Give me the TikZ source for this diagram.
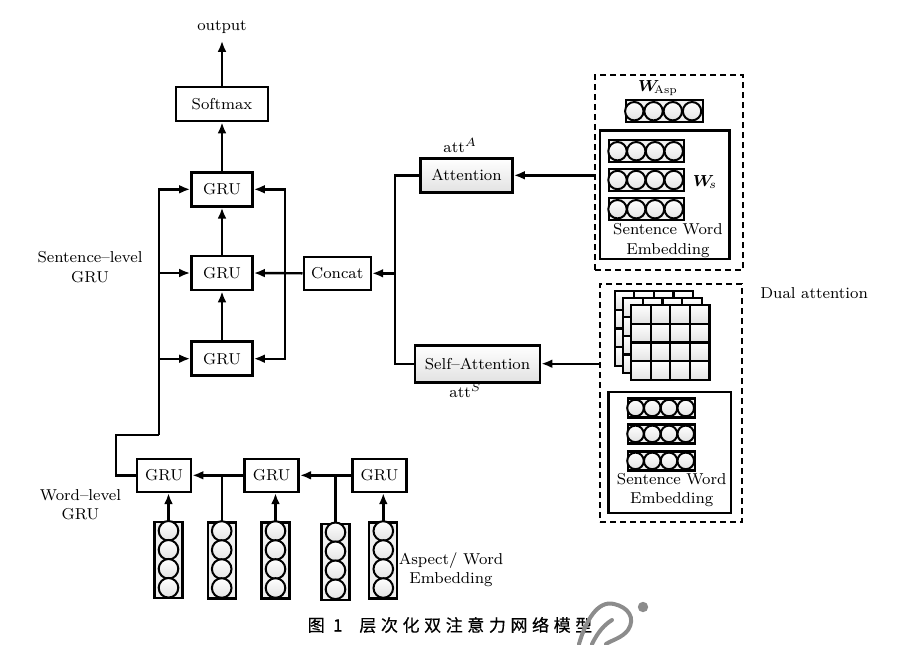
\documentclass[tikz,border=0pt]{standalone}
\usepackage{fontspec}
\usepackage{amsmath,bm}
\newfontfamily\cjk[LetterSpace=27,FakeBold=0.4]{Noto Sans CJK SC}
\usetikzlibrary{arrows.meta,positioning,calc}
\definecolor{boxfill}{HTML}{E2E2E2}
\definecolor{wmgray}{HTML}{8C8C8C}
\tikzset{
  >={Latex[length=5.5pt,width=4.4pt]},
  every node/.style={font=\fontsize{7.9}{9.6}\selectfont,text=black},
  blk/.style={draw,line width=1.3pt,fill=white,inner sep=1pt},
  gru/.style={blk,minimum width=30.5pt,minimum height=17pt},
  wgru/.style={blk,minimum width=27pt,minimum height=16.5pt},
  attn/.style={blk,top color=white,bottom color=boxfill,minimum height=17pt},
  vecbox/.style={draw,line width=1.1pt,fill=black!6,inner sep=0pt},
  ball/.style={circle,draw,line width=1pt,inner sep=0pt,minimum size=9.8pt,top color=white,bottom color=boxfill},
  hball/.style={ball,minimum size=9.2pt},
  sball/.style={ball,minimum size=8.3pt},
  panel/.style={draw,line width=1.2pt,dash pattern=on 3pt off 2pt,inner sep=0pt},
  embbox/.style={draw,line width=1.2pt,inner sep=0pt},
  cell/.style={draw,line width=1.1pt,top color=white,bottom color=boxfill},
  arrow/.style={->,line width=1.2pt},
  wire/.style={line width=1.2pt},
  lbl/.style={align=center,inner sep=0pt},
  wm/.style={draw=wmgray,line width=2pt,line cap=round}
}
\begin{document}
\begin{tikzpicture}[x=0.5pt,y=-0.5pt]
  \useasboundingbox (0,0) rectangle (906,644);

  \node[lbl] (out) at (222,27) {output};
  \node[blk,minimum width=46pt,minimum height=17pt] (soft) at (222,104) {Softmax};
  \node[gru] (sg3) at (222,189.3) {GRU};
  \node[gru] (sg2) at (222,273) {GRU};
  \node[gru] (sg1) at (222,358.7) {GRU};
  \node[lbl] (slabel) at (90,267) {Sentence--level\\GRU};
  \node[blk,minimum width=33.5pt,minimum height=16.5pt] (concat) at (337.3,273.3) {Concat};
  \node[attn,minimum width=46pt] (att) at (466.5,175.3) {Attention};
  \node[attn,minimum width=62.5pt,minimum height=18.5pt] (satt) at (477.5,363.7) {Self--Attention};
  \node[lbl,anchor=base west] (attA) at (443,152.5) {att$^{A}$};
  \node[lbl,anchor=base west] (attS) at (449,397) {att$^{S}$};

  \node[wgru] (wg1) at (164,475.3) {GRU};
  \node[wgru] (wg2) at (271.7,475.3) {GRU};
  \node[wgru] (wg3) at (379.5,475.3) {GRU};
  \node[lbl] (wlabel) at (80.5,504.5) {Word--level\\GRU};
  \foreach \n/\x/\y in {e1/168.5/560.3,e2/221.7/560.5,e3/275.5/560.5,e4/335.5/561.8,e5/383.3/560.5} {
    \node[vecbox,minimum width=14pt,minimum height=38pt] (\n) at (\x,\y) {};
    \foreach \k in {0,...,3} \node[ball] (\n-\k) at ($(\n.north)+(0,9.6+19*\k)$) {};
  }
  \node[lbl] (aspect) at (451,570) {Aspect/ Word\\Embedding};

  \node[panel,minimum width=74pt,minimum height=97.5pt] (dbox1) at (669,172.5) {};
  \node[lbl] (wasp) at (658,88) {$\bm{W}_{\!\mathrm{Asp}}$};
  \node[vecbox,minimum width=38.5pt,minimum height=11pt] (wv) at (664.3,111.2) {};
  \foreach \k in {0,...,3} \node[hball] (wv-\k) at ($(wv.west)+(9.6+19.25*\k,0)$) {};
  \node[embbox,minimum width=64.6pt,minimum height=64.2pt] (ebox1) at (664.7,194.8) {};
  \foreach \n/\y in {s1/151.2,s2/180,s3/209.2} {
    \node[vecbox,minimum width=37.5pt,minimum height=11pt] (\n) at (646.7,\y) {};
    \foreach \k in {0,...,3} \node[hball] (\n-\k) at ($(\n.west)+(9.4+18.75*\k,0)$) {};
  }
  \node[lbl] (ws) at (705,182) {$\bm{W}_{\!s}$};
  \node[lbl] (emb1) at (668,240.5) {Sentence Word\\Embedding};

  \node[panel,minimum width=71pt,minimum height=119pt] (dbox2) at (671,403) {};
  \foreach \dx/\dy in {16.4/14,7.7/6.8,0/0}
    \foreach \i in {0,...,3}
      \foreach \j in {0,...,3}
        \draw[cell] (631-\dx+19.6*\i,305-\dy+18.75*\j) rectangle +(19.6,18.75);
  \node[embbox,minimum width=61.2pt,minimum height=60.5pt] (ebox2) at (669.5,452.2) {};
  \foreach \n/\y in {t1/408,t2/433.9,t3/460.9} {
    \node[vecbox,minimum width=33.5pt,minimum height=9.5pt] (\n) at (661.7,\y) {};
    \foreach \k in {0,...,3} \node[sball] (\n-\k) at ($(\n.west)+(8.4+16.75*\k,0)$) {};
  }
  \node[lbl] (emb2) at (671.7,490) {Sentence Word\\Embedding};
  \node[lbl,anchor=west] (dual) at (760,293) {Dual attention};

  \draw[arrow,shorten >=3.5pt] (soft) -- (out);
  \draw[arrow] (sg3) -- (soft);
  \draw[arrow] (sg2) -- (sg3);
  \draw[arrow] (sg1) -- (sg2);

  \coordinate (wturn) at (116,435);
  \coordinate (lbus) at (159,435);
  \draw[wire] (wg1.west) -| (wturn) -- (lbus);
  \draw[arrow] (lbus) |- (sg3.west);
  \draw[arrow] (lbus |- sg2.west) -- (sg2.west);
  \draw[arrow] (lbus |- sg1.west) -- (sg1.west);

  \coordinate (rbus) at (285,273);
  \draw[arrow] (concat.west) -- (sg2.east);
  \draw[arrow] (rbus) |- (sg3.east);
  \draw[arrow] (rbus) |- (sg1.east);

  \coordinate (cbus) at (395,273.3);
  \draw[wire] (att.west) -| (cbus) |- (satt.west);
  \draw[arrow] (cbus) -- (concat.east);
  \draw[arrow] (dbox1.west |- att.east) -- (att.east);
  \draw[arrow] (dbox2.west |- satt.east) -- (satt.east);

  \draw[arrow] (wg3.west) -- (wg2.east);
  \draw[arrow] (wg2.west) -- (wg1.east);
  \draw[wire] (e2.north) -- (e2.north |- wg1.east);
  \draw[wire] (e4.north) -- (e4.north |- wg2.east);
  \draw[arrow] (e1.north) -- (e1.north |- wg1.south);
  \draw[arrow] (e3.north) -- (e3.north |- wg2.south);
  \draw[arrow] (e5.north) -- (e5.north |- wg3.south);

  \node (caption) at (450,625) {\fontsize{8.5}{10}\selectfont\cjk 图 1\ \ 层次化双注意力网络模型};

  \draw[wm] (579,644) .. controls (586,620) and (598,600) .. (614,604) .. controls (628,607) and (636,618) .. (628,630) .. controls (622,638) and (612,640) .. (606,644);
  \draw[wm] (592,644) .. controls (598,632) and (604,625) .. (612,620);
  \fill[wmgray] (643,607) circle (2.6pt);
\end{tikzpicture}
\end{document}
